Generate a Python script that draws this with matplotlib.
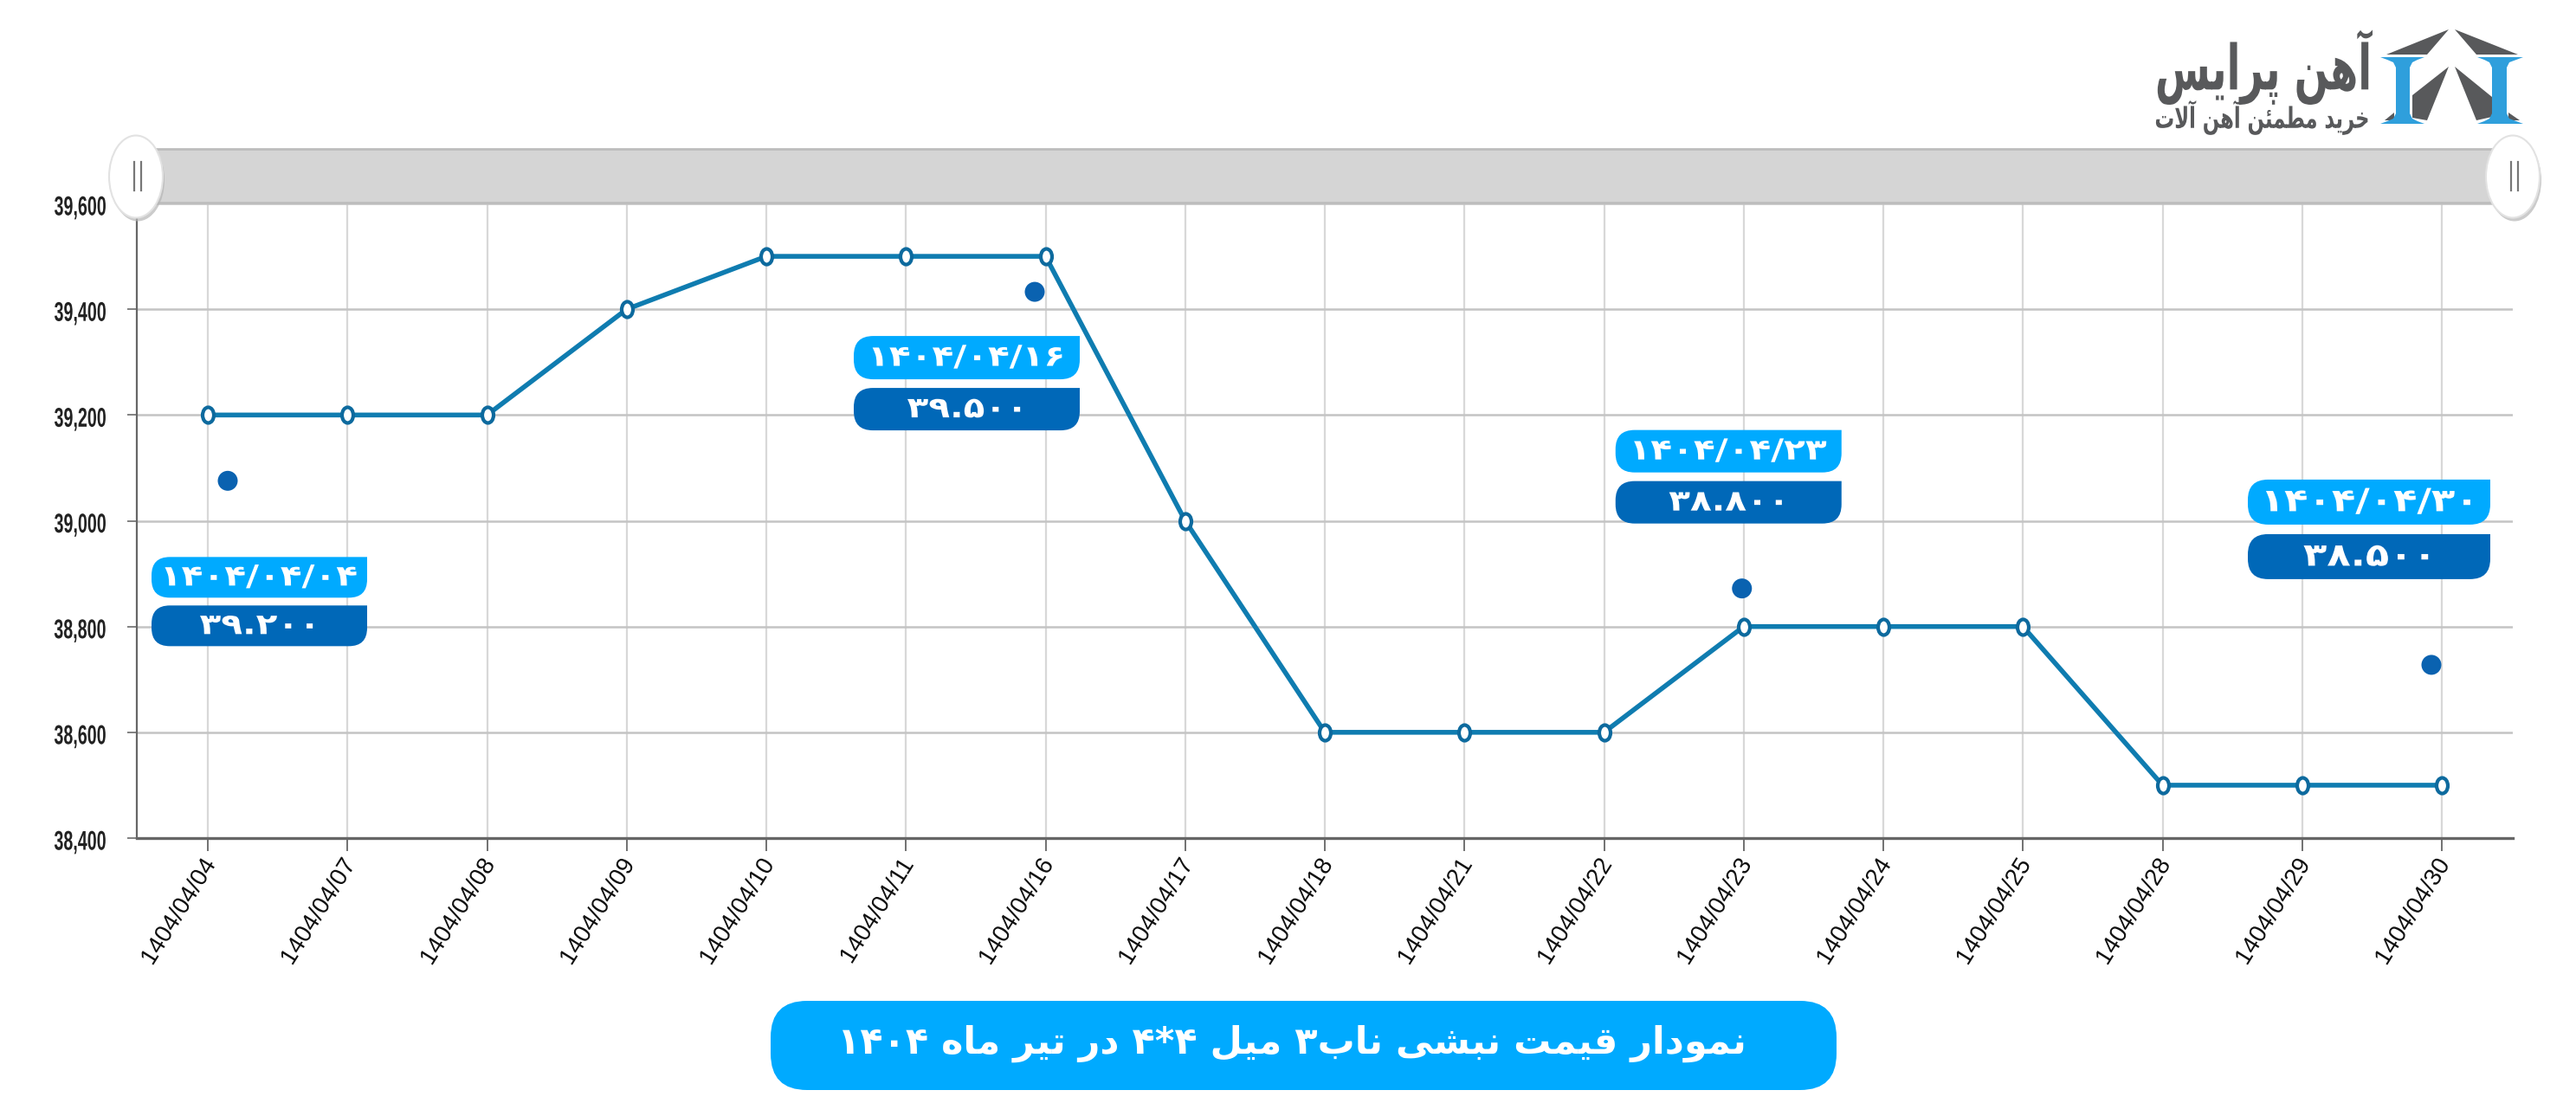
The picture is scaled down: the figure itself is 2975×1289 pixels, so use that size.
#!/usr/bin/env python3
"""Price chart of 4*4 angle iron, month of Tir 1404, with the Ahan Price logo"""

import matplotlib
matplotlib.use('Agg')
import matplotlib.pyplot as plt
from matplotlib.patches import PathPatch, Ellipse, Polygon, Rectangle
from matplotlib.patheffects import AbstractPathEffect
from matplotlib.path import Path
from matplotlib.transforms import Affine2D

# Data
dates = ['1404/04/04', '1404/04/07', '1404/04/08', '1404/04/09', '1404/04/10', '1404/04/11',
         '1404/04/16', '1404/04/17', '1404/04/18', '1404/04/21', '1404/04/22', '1404/04/23',
         '1404/04/24', '1404/04/25', '1404/04/28', '1404/04/29', '1404/04/30']
prices = [39200, 39200, 39200, 39400, 39500, 39500, 39500, 39000, 38600,
          38600, 38600, 38800, 38800, 38800, 38500, 38500, 38500]
y_ticks = [38400, 38600, 38800, 39000, 39200, 39400, 39600]

# Callouts
callout_idx = [0, 6, 11, 16]
callout_dates = ['۱۴۰۴/۰۴/۰۴', '۱۴۰۴/۰۴/۱۶', '۱۴۰۴/۰۴/۲۳', '۱۴۰۴/۰۴/۳۰']
callout_values = ['۳۹.۲۰۰', '۳۹.۵۰۰', '۳۸.۸۰۰', '۳۸.۵۰۰']

title_text = 'نمودار قیمت نبشی ناب۳ میل ۴*۴ در تیر ماه ۱۴۰۴'
logo_name = 'آهن پرایس'
logo_slogan = 'خرید مطمئن آهن آلات'

W, H = 2975, 1289
LEFT, RIGHT, TOP, BOTTOM = 158, 2902, 235, 968
FIRST_X, STEP_X = 240, 161.25

LIGHT_BLUE = '#00aaff'
DARK_BLUE = '#0068b8'
LOGO_GREY = '#58595b'
LOGO_BLUE = '#2f9fdc'

# isolated, final, initial, medial
FORMS = {
    'ا': (0xFE8D, 0xFE8E), 'آ': (0xFE81, 0xFE82), 'د': (0xFEA9, 0xFEAA),
    'ر': (0xFEAD, 0xFEAE), 'و': (0xFEED, 0xFEEE),
    'ب': (0xFE8F, 0xFE90, 0xFE91, 0xFE92), 'پ': (0xFB56, 0xFB57, 0xFB58, 0xFB59),
    'ت': (0xFE95, 0xFE96, 0xFE97, 0xFE98), 'خ': (0xFEA5, 0xFEA6, 0xFEA7, 0xFEA8),
    'س': (0xFEB1, 0xFEB2, 0xFEB3, 0xFEB4), 'ش': (0xFEB5, 0xFEB6, 0xFEB7, 0xFEB8),
    'ط': (0xFEC1, 0xFEC2, 0xFEC3, 0xFEC4), 'ق': (0xFED5, 0xFED6, 0xFED7, 0xFED8),
    'ل': (0xFEDD, 0xFEDE, 0xFEDF, 0xFEE0), 'م': (0xFEE1, 0xFEE2, 0xFEE3, 0xFEE4),
    'ن': (0xFEE5, 0xFEE6, 0xFEE7, 0xFEE8), 'ه': (0xFEE9, 0xFEEA, 0xFEEB, 0xFEEC),
    'ی': (0xFBFC, 0xFBFD, 0xFBFE, 0xFBFF), 'ئ': (0xFE89, 0xFE8A, 0xFE8B, 0xFE8C),
}


def persian(text):
    """matplotlib has no shaping, so pick the joined forms and lay out right to left"""
    out = []
    i = 0
    while i < len(text):
        ch = text[i]
        if ch not in FORMS:
            out.append(ch)
            i += 1
            continue
        prev = text[i - 1] if i else ''
        joins_prev = prev in FORMS and len(FORMS[prev]) == 4
        if ch == 'ل' and text[i + 1:i + 2] == 'ا':
            out.append(chr(0xFEFC if joins_prev else 0xFEFB))
            i += 2
            continue
        nxt = text[i + 1] if i + 1 < len(text) else ''
        forms = FORMS[ch]
        joins_next = len(forms) == 4 and nxt in FORMS
        if joins_prev and joins_next:
            code = forms[3]
        elif joins_prev:
            code = forms[1]
        elif joins_next:
            code = forms[2]
        else:
            code = forms[0]
        out.append(chr(code))
        i += 1

    # reverse, but numbers keep reading left to right
    rev = out[::-1]
    result, run = [], []
    for ch in rev:
        if ch in '۰۱۲۳۴۵۶۷۸۹*':
            run.append(ch)
        else:
            result.extend(run[::-1])
            run = []
            result.append(ch)
    result.extend(run[::-1])
    return ''.join(result)


class Stretch(AbstractPathEffect):
    """Scale text along its baseline, the reference fonts are narrower or wider than ours"""

    def __init__(self, sx=1, anchor=0.5, dx=0, dy=0):
        super().__init__()
        self.sx = sx
        self.anchor = anchor
        self.dx = dx
        self.dy = dy

    def draw_path(self, renderer, gc, tpath, affine, rgbFace=None):
        box = tpath.get_extents()
        pivot = box.x0 + self.anchor * box.width
        squeeze = Affine2D().translate(-pivot, 0).scale(self.sx, 1).translate(pivot, 0)
        renderer.draw_path(gc, tpath, squeeze + affine + Affine2D().translate(self.dx, self.dy), rgbFace)


def rounded_box(x0, y0, x1, y1, radii):
    """Box path in pixel coords, radii are top-left, top-right, bottom-right, bottom-left"""
    tl, tr, br, bl = radii
    verts = [(x0 + tl, y0), (x1 - tr, y0), (x1, y0), (x1, y0 + tr), (x1, y1 - br), (x1, y1),
             (x1 - br, y1), (x0 + bl, y1), (x0, y1), (x0, y1 - bl), (x0, y0 + tl), (x0, y0),
             (x0 + tl, y0), (x0 + tl, y0)]
    codes = [Path.MOVETO, Path.LINETO, Path.CURVE3, Path.CURVE3, Path.LINETO, Path.CURVE3,
             Path.CURVE3, Path.LINETO, Path.CURVE3, Path.CURVE3, Path.LINETO, Path.CURVE3,
             Path.CURVE3, Path.CLOSEPOLY]
    return Path(verts, codes)


fig = plt.figure(figsize=(W / 100, H / 100), dpi=100, facecolor='white')

# Main chart
ax = fig.add_axes([LEFT / W, 1 - BOTTOM / H, (RIGHT - LEFT) / W, (BOTTOM - TOP) / H])
ax.set_xlim((LEFT - FIRST_X) / STEP_X, (RIGHT - FIRST_X) / STEP_X)
ax.set_ylim(38400, 39600)
ax.set_xticks(range(len(dates)))
ax.set_xticklabels(dates, rotation=58, ha='right', va='top', rotation_mode='anchor',
                   fontsize=20, family='Liberation Sans', color='#111111')
for label in ax.get_xticklabels():
    label.set_path_effects([Stretch(dx=-7)])
ax.set_yticks(y_ticks)
ax.set_yticklabels([f'{v:,}' for v in y_ticks], fontsize=22.5, fontweight='bold',
                   family='Liberation Sans', color='#222222')
for label in ax.get_yticklabels():
    label.set_path_effects([Stretch(0.63, anchor=1, dy=-2)])
ax.grid(True, axis='y', color='#c4c4c4', linewidth=1.8)
ax.grid(True, axis='x', color='#d8d8d8', linewidth=1.6)
ax.set_axisbelow(True)
ax.tick_params(axis='x', length=11, width=1.3, color='#666666', pad=3)
ax.tick_params(axis='y', length=8, width=1.3, color='#777777', pad=17)
for side in ('top', 'right'):
    ax.spines[side].set_visible(False)
ax.spines['left'].set_color('#666666')
ax.spines['left'].set_linewidth(1.6)
ax.spines['bottom'].set_color('#666666')
ax.spines['bottom'].set_linewidth(2.4)

tall_ring = Path.unit_circle().transformed(Affine2D().scale(0.72, 1))
ax.plot(range(len(dates)), prices, color='#0f7cb0', linewidth=4, marker=tall_ring, markersize=13,
        markerfacecolor='white', markeredgecolor='#0d6a9e', markeredgewidth=3, clip_on=False, zorder=5)

# Overlay in pixel coords for the slider, callouts, title and logo
over = fig.add_axes([0, 0, 1, 1], facecolor='none')
over.set_xlim(0, W)
over.set_ylim(H, 0)
over.axis('off')

# Slider bar with its two handles
over.add_patch(Rectangle((LEFT, 172), 2880 - LEFT, 62, facecolor='#d5d5d5', edgecolor='#bdbdbd', linewidth=2))
for cx in (157, 2902):
    over.add_patch(Ellipse((cx + 2, 208), 62, 95, facecolor='#b5b5b5', edgecolor='none', alpha=0.7))
    over.add_patch(Ellipse((cx, 204), 62, 95, facecolor='white', edgecolor='#e2e2e2', linewidth=1.5))
    for off in (-2, 6):
        over.plot([cx + off, cx + off], [187, 220], color='#777777', linewidth=1.6)

# Callouts sit at pixel offsets from the point they describe
dot_offsets = [(23, 76), (-12.5, 41), (-2, -44), (-12, -139)]
date_boxes = [(-65, 164, 184, 211), (-221.5, 92, 39.5, 142), (-148, -227, 113, -178), (-224, -353, 56, -301)]
value_gap = [(9, 56), (10, 59), (10, 59), (11, 63)]
callout_font = [24, 24, 24, 26.5]
for k, idx in enumerate(callout_idx):
    px, py = ax.transData.transform((idx, prices[idx]))
    py = H - py
    over.add_patch(Ellipse((px + dot_offsets[k][0], py + dot_offsets[k][1]), 23, 23, facecolor='#0a62b0', edgecolor='none'))
    bx0, by0, bx1, by1 = date_boxes[k]
    x0, x1 = px + bx0, px + bx1
    y0, y1 = py + by0, py + by1
    r = (y1 - y0) * 0.45
    over.add_patch(PathPatch(rounded_box(x0, y0, x1, y1, (r, 0, r, r)), facecolor=LIGHT_BLUE, edgecolor='none'))
    over.text((x0 + x1) / 2, (y0 + y1) / 2, callout_dates[k], color='white', ha='center', va='center',
              fontsize=callout_font[k], fontweight='bold', family='DejaVu Sans', path_effects=[Stretch(1.22)])
    v0, v1 = y1 + value_gap[k][0], y1 + value_gap[k][1]
    r = (v1 - v0) * 0.45
    over.add_patch(PathPatch(rounded_box(x0, v0, x1, v1, (r, 0, r, r)), facecolor=DARK_BLUE, edgecolor='none'))
    over.text((x0 + x1) / 2, (v0 + v1) / 2, callout_values[k], color='white', ha='center', va='center',
              fontsize=callout_font[k], fontweight='bold', family='DejaVu Sans', path_effects=[Stretch(1.22)])

# Title pill
over.add_patch(PathPatch(rounded_box(890, 1156, 2121, 1259, (42, 42, 42, 42)), facecolor=LIGHT_BLUE, edgecolor='none'))
over.text(1492, 1205, persian(title_text), color='white', ha='center', va='center',
          fontsize=31, fontweight='bold', family='DejaVu Sans')

# Logo
grey_shapes = [
    [(2756, 63), (2828, 34), (2803, 63)],
    [(2835, 34), (2908, 63), (2860, 63)],
    [(2828, 77), (2803, 139), (2786, 136), (2786, 110)],
    [(2835, 77), (2878, 112), (2878, 135), (2860, 139)],
    [(2754, 139), (2765, 130), (2765, 139)],
    [(2897, 130), (2910, 139), (2897, 139)],
]
for pts in grey_shapes:
    over.add_patch(Polygon(pts, closed=True, facecolor=LOGO_GREY, edgecolor='none'))
for fx0, fx1, wx0, wx1 in [(2749, 2800, 2767, 2783), (2861, 2914, 2878, 2895)]:
    beam = [(fx0, 66), (fx1, 66), (fx1 - 8, 69), (wx1 + 3, 72), (wx1, 78), (wx1, 131), (wx1 + 3, 137),
            (fx1 - 8, 140), (fx1, 143), (fx0, 143), (fx0 + 8, 140), (wx0 - 3, 137), (wx0, 131),
            (wx0, 78), (wx0 - 3, 72), (fx0 + 8, 69)]
    over.add_patch(Polygon(beam, closed=True, facecolor=LOGO_BLUE, edgecolor='none'))

over.text(2739, 78, persian(logo_name), color=LOGO_GREY, ha='right', va='center',
          fontsize=52, fontweight='bold', family='DejaVu Sans', path_effects=[Stretch(0.64, anchor=1)])
over.text(2739, 136, persian(logo_slogan), color=LOGO_GREY, ha='right', va='center',
          fontsize=24, fontweight='bold', family='DejaVu Sans', path_effects=[Stretch(0.68, anchor=1)])

fig.savefig('out.png', dpi=100, facecolor='white')
plt.close(fig)
